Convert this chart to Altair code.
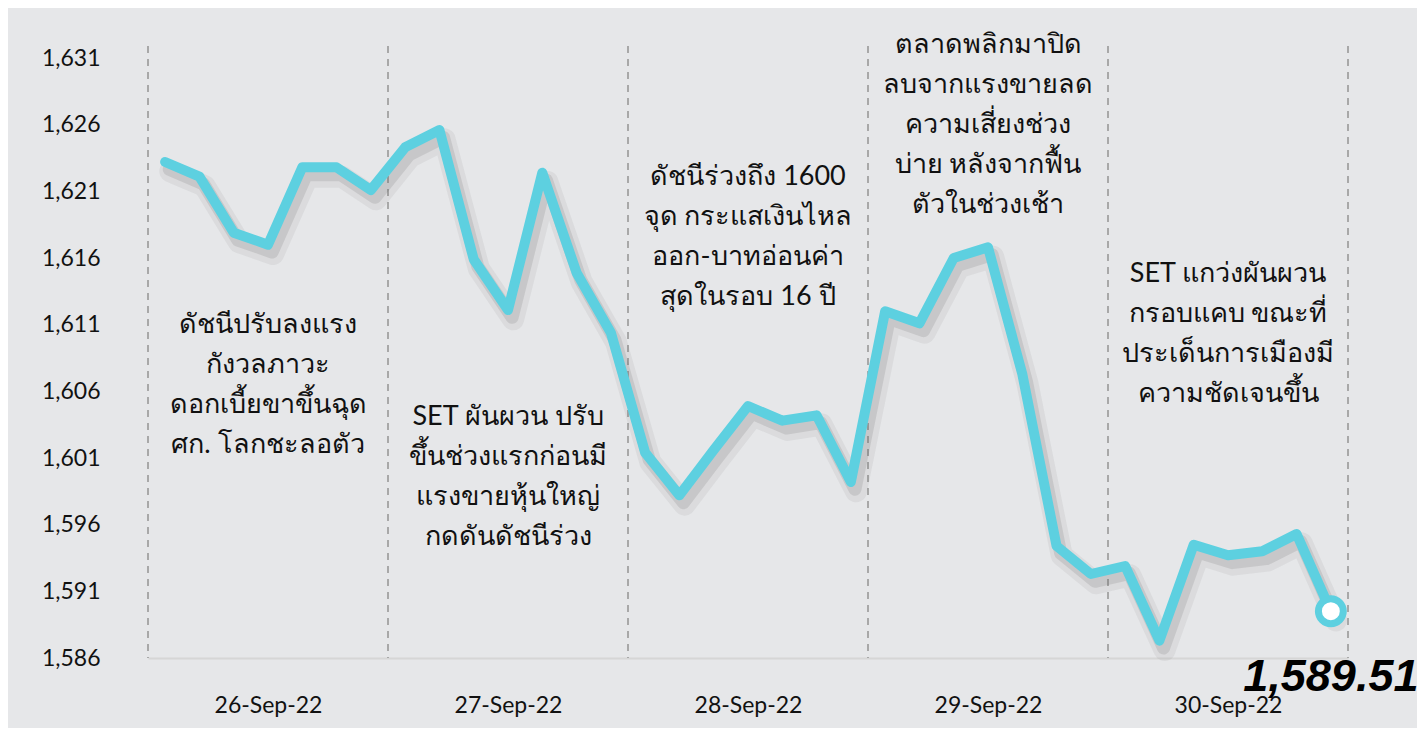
import altair as alt
import pandas as pd

days = ["26-Sep-22", "27-Sep-22", "28-Sep-22", "29-Sep-22", "30-Sep-22"]
values = [1623.2, 1622.1, 1617.9, 1617.0, 1622.8, 1622.8, 1621.1,
          1624.3, 1625.6, 1615.9, 1612.1, 1622.4, 1614.9, 1610.4,
          1601.4, 1598.2, 1601.6, 1604.9, 1603.8, 1604.2, 1599.2,
          1612.0, 1611.1, 1616.0, 1616.8, 1607.3, 1594.4, 1592.3,
          1592.9, 1587.3, 1594.5, 1593.7, 1594.0, 1595.3, 1589.51]
y_ticks = [1586, 1591, 1596, 1601, 1606, 1611, 1616, 1621, 1626, 1631]
notes = [
    "ดัชนีปรับลงแรง\nกังวลภาวะ\nดอกเบี้ยขาขึ้นฉุด\nศก. โลกชะลอตัว",
    "SET ผันผวน ปรับ\nขึ้นช่วงแรกก่อนมี\nแรงขายหุ้นใหญ่\nกดดันดัชนีร่วง",
    "ดัชนีร่วงถึง 1600\nจุด กระแสเงินไหล\nออก-บาทอ่อนค่า\nสุดในรอบ 16 ปี",
    "ตลาดพลิกมาปิด\nลบจากแรงขายลด\nความเสี่ยงช่วง\nบ่าย หลังจากฟื้น\nตัวในช่วงเช้า",
    "SET แกว่งผันผวน\nกรอบแคบ ขณะที่\nประเด็นการเมืองมี\nความชัดเจนขึ้น",
]
note_y = [1611.0, 1604.1, 1622.1, 1632.0, 1614.8]
last_label = "1,589.51"

n_per_day = 7
df = pd.DataFrame({"i": list(range(len(values))), "v": values})
bounds = pd.DataFrame({"b": [d * n_per_day - 0.5 for d in range(len(days) + 1)]})
day_centers = [d * n_per_day + 3 for d in range(len(days))]
notes_df = pd.DataFrame({"i": day_centers, "v": note_y, "t": notes})
last_df = df.tail(1).assign(t=last_label)

label_expr = "{" + ",".join(f"'{c}':'{d}'" for c, d in zip(day_centers, days)) + "}[datum.value]"

xs = alt.Scale(domain=[-0.5, len(values) - 0.5], nice=False, zero=False)
ys = alt.Scale(domain=[1586, 1631], nice=False, zero=False)

CYAN = "#5dd0e0"
FONT = "Lato"

x_enc = alt.X("i:Q", scale=xs, axis=alt.Axis(
    values=day_centers, labelExpr=label_expr, title=None, grid=False, ticks=False,
    domain=True, domainColor="#d6d6d6", domainWidth=2, labelPadding=36,
    labelFontSize=23, labelColor="#111111", labelFont=FONT))
y_enc = alt.Y("v:Q", scale=ys, axis=alt.Axis(
    values=y_ticks, format=",", title=None, grid=False, ticks=False, domain=False,
    labelPadding=48, labelFontSize=23, labelColor="#111111", labelFont=FONT))

rules = alt.Chart(bounds).mark_rule(color="#a8a8a8", strokeWidth=2, strokeDash=[7, 6]).encode(
    x=alt.X("b:Q", scale=xs), y=alt.value(-12), y2=alt.value(600))

shadow1 = alt.Chart(df).transform_calculate(
    xs="datum.i + 0.15", vs="datum.v - 0.7").mark_line(
    color="#555555", opacity=0.08, strokeWidth=22, strokeJoin="round", strokeCap="round").encode(
    x=alt.X("xs:Q", scale=xs), y=alt.Y("vs:Q", scale=ys))
shadow2 = alt.Chart(df).transform_calculate(
    xs="datum.i + 0.12", vs="datum.v - 0.55").mark_line(
    color="#555555", opacity=0.15, strokeWidth=13, strokeJoin="round", strokeCap="round").encode(
    x=alt.X("xs:Q", scale=xs), y=alt.Y("vs:Q", scale=ys))

line = alt.Chart(df).mark_line(color=CYAN, strokeWidth=10, strokeJoin="round", strokeCap="round").encode(
    x=x_enc, y=y_enc)

endpt = alt.Chart(last_df).mark_point(filled=True, fill="white", stroke=CYAN, strokeWidth=7,
                                      size=620, opacity=1).encode(
    x=alt.X("i:Q", scale=xs), y=alt.Y("v:Q", scale=ys))

end_label = alt.Chart(last_df).mark_text(
    font="Liberation Sans", fontSize=45, fontWeight="bold", fontStyle="italic",
    color="#000000", align="center", baseline="middle", dx=0).encode(
    x=alt.X("i:Q", scale=xs), y=alt.value(619), text="t:N")

note_text = alt.Chart(notes_df).mark_text(
    font=FONT, fontSize=27, lineHeight=40, lineBreak="\n", color="#111111",
    align="center", baseline="middle").encode(
    x=alt.X("i:Q", scale=xs), y=alt.Y("v:Q", scale=ys), text="t:N")

chart = alt.layer(rules, shadow1, shadow2, line, endpt, end_label, note_text).properties(
    width=1200, height=600,
    autosize=alt.AutoSizeParams(type="none"),
    padding={"left": 140, "top": 50, "right": 69, "bottom": 70},
    background="#e6e7e9",
).configure_view(stroke=None)

chart.save("out.html", embed_options={"renderer": "svg", "actions": False})
